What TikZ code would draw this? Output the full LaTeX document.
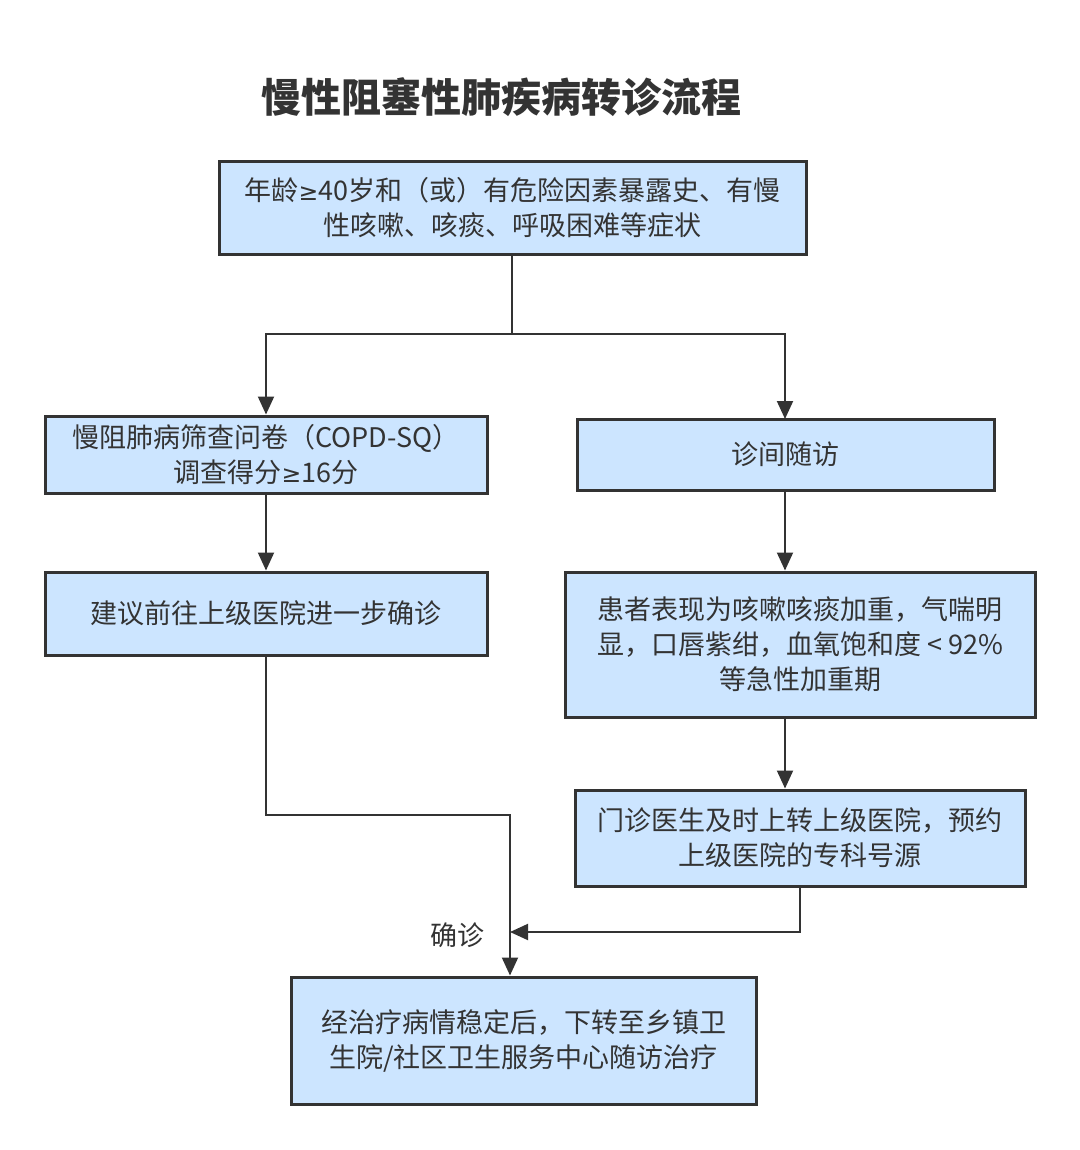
\documentclass[tikz,border=0pt]{standalone}
\usepackage{fontspec}
\setmainfont{Noto Sans CJK SC}
\newfontfamily\symfont{DejaVu Sans}
\usepackage{tikz}
\usetikzlibrary{arrows.meta}
\definecolor{boxfill}{HTML}{CCE5FF}
\definecolor{ink}{HTML}{333333}
\newcommand{\geqsym}{{\symfont\fontsize{11.8}{14}\selectfont ≥}}

\begin{document}
\begin{tikzpicture}[x=0.5pt, y=-0.5pt,
  step box/.style = {draw = ink, line width = 1.5pt, fill = boxfill, text = ink,
    align = center, inner sep = 0pt, font = \fontsize{13.5}{17.5}\selectfont},
  arr/.style = {draw = ink, line width = 1pt, -{Triangle[length=9pt, width=8pt]}},
  lin/.style = {draw = ink, line width = 1pt}]
  \useasboundingbox (0, 0) rectangle (1080, 1150);
  \node [text = ink, font = \fontsize{20}{24}\selectfont\bfseries] (title) at (501, 97) {慢性阻塞性肺疾病转诊流程};
  \node [step box, minimum width = 293.5pt, minimum height = 46pt] (T) at (512.5, 208)
    {年龄\geqsym40岁和（或）有危险因素暴露史、有慢\\性咳嗽、咳痰、呼吸困难等症状};
  \node [step box, minimum width = 221pt, minimum height = 38.5pt] (L1) at (266, 454.5)
    {慢阻肺病筛查问卷（COPD-SQ）\\调查得分\geqsym16分};
  \node [step box, minimum width = 208.5pt, minimum height = 35.5pt] (R1) at (785.5, 454.5) {诊间随访};
  \node [step box, minimum width = 221pt, minimum height = 41.5pt] (L2) at (266, 613.5) {建议前往上级医院进一步确诊};
  \node [step box, minimum width = 235pt, minimum height = 72.5pt] (R2) at (800, 644.5)
    {患者表现为咳嗽咳痰加重，气喘明\\显，口唇紫绀，血氧饱和度 < 92\%\\等急性加重期};
  \node [step box, minimum width = 225pt, minimum height = 48pt] (R3) at (800, 838)
    {门诊医生及时上转上级医院，预约\\上级医院的专科号源};
  \node [step box, minimum width = 232.5pt, minimum height = 63.5pt] (B) at (523.5, 1040.5)
    {经治疗病情稳定后，下转至乡镇卫\\生院/社区卫生服务中心随访治疗};
  \node [text = ink, font = \fontsize{13.5}{16}\selectfont] (lbl) at (457, 935) {确诊};
  \coordinate (split) at (512, 334);
  \coordinate (bendL) at (510, 815);
  \coordinate (merge) at (510, 932);
  \draw [lin] (T.south -| split) -- (split);
  \draw [arr] (split) -| (L1.north);
  \draw [arr] (split) -| (785, 419);
  \draw [arr] (L1) -- (L2);
  \draw [arr] (R1.south -| 785, 0) -- (R2.north -| 785, 0);
  \draw [arr] (R2.south -| 785, 0) -- (R3.north -| 785, 0);
  \draw [arr] (L2.south) |- (bendL) -- (bendL |- B.north);
  \draw [arr] (R3.south) |- (merge);
\end{tikzpicture}
\end{document}
